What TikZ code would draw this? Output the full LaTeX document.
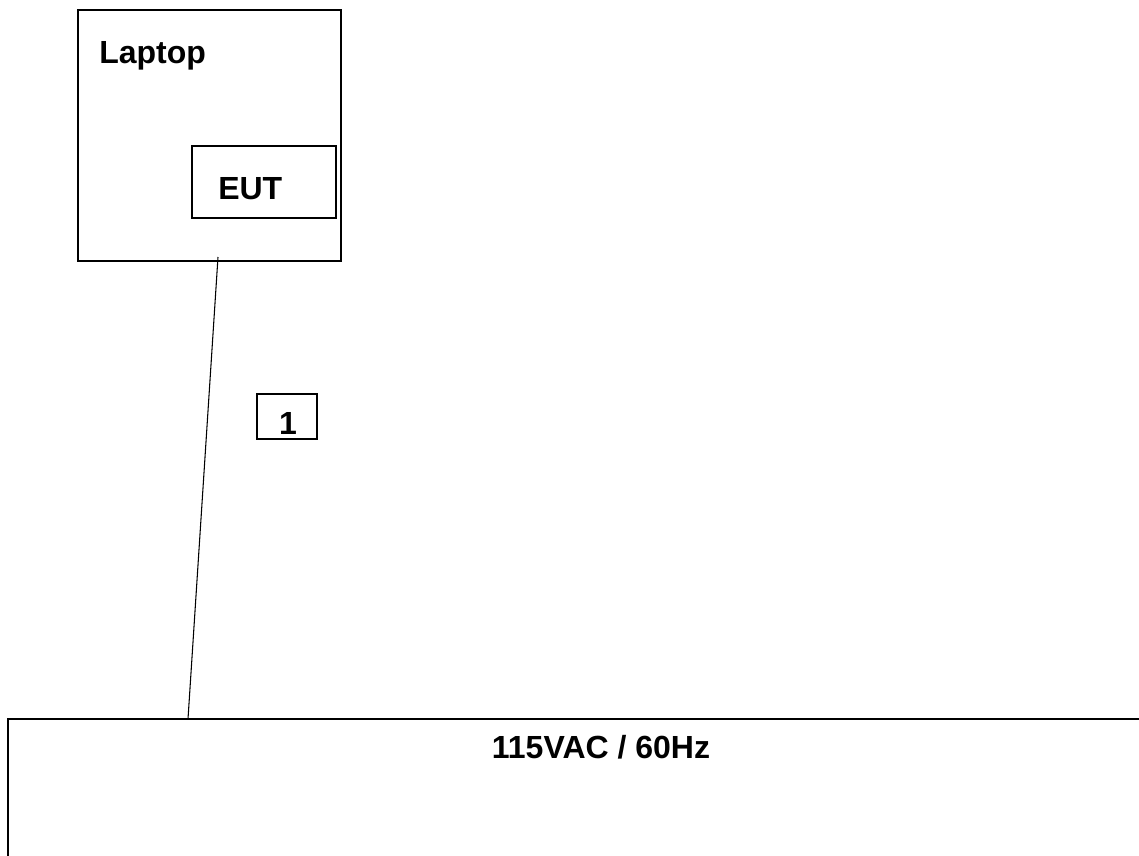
\documentclass[tikz,border=0pt]{standalone}
\usepackage{fontspec}
\setmainfont{Liberation Sans}
\tikzset{
    unitbox/.style={draw, rectangle, line width=0.8pt, inner sep=0pt, outer sep=0pt},
    boxtext/.style={draw=none, inner sep=0pt, font=\bfseries\fontsize{24}{28}\selectfont}
}
\begin{document}
\begin{tikzpicture}[x=0.75pt, y=-0.75pt]
    \useasboundingbox (0,0) rectangle (1139,856);

    % Draw the laptop with the EUT inside
    \node[unitbox, minimum width=197.25pt, minimum height=188.25pt] (laptop) at (209.5,135.5) {};
    \node[boxtext, anchor=base west] (laptoptext) at (99,64) {Laptop};
    \node[unitbox, minimum width=108pt, minimum height=54pt] (eut) at (264,182) {};
    \node[boxtext, anchor=base west] (euttext) at (218,199.5) {EUT};

    % Draw the mains supply
    \node[unitbox, line width=1.1pt, minimum width=864pt, minimum height=120.75pt] (mains) at (584,799.5) {};
    \node[boxtext, anchor=base] (mainstext) at (601,758) {115VAC / 60Hz};

    % Power cord
    \coordinate (cordtop) at (218,257);
    \coordinate (cordend) at (188,719);
    \draw[line width=0.8pt] (cordtop) -- (cordend);

    % Cable number
    \node[unitbox, minimum width=45pt, minimum height=33.75pt] (cable) at (287,416.5) {};
    \node[boxtext, anchor=base] (cabletext) at (288,434) {1};

\end{tikzpicture}
\end{document}
